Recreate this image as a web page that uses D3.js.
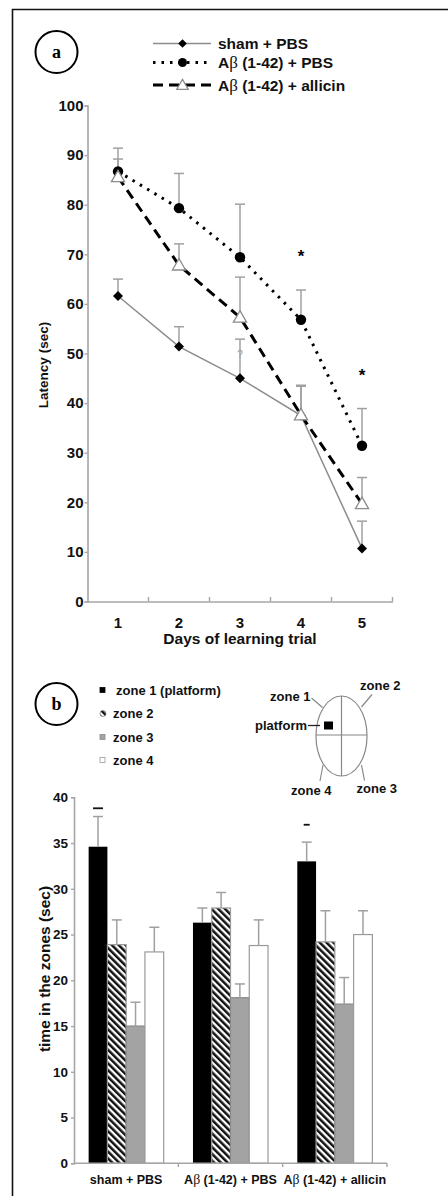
<!DOCTYPE html>
<html>
<head>
<meta charset="utf-8">
<script src="https://cdn.jsdelivr.net/npm/d3@7"></script>
<style>
  html, body { margin: 0; padding: 0; background: #fff; }
  svg { display: block; font-family: "Liberation Sans", Arial, sans-serif; }
</style>
</head>
<body>
<div id="viz"></div>
<script>
// ---- panel a data: escape latency (sec), mean and upper error ----
var days = [1, 2, 3, 4, 5];
var seriesNames = ['sham + PBS', 'Aβ (1-42) + PBS', 'Aβ (1-42) + allicin'];
var shamPBS = [61.6, 51.4, 45.0, 37.5, 10.7];
var shamPBSErr = [3.4, 4.0, 7.9, 6.1, 5.5];
var abPBS = [86.7, 79.3, 69.4, 56.8, 31.4];
var abPBSErr = [4.7, 7.0, 10.7, 6.0, 7.5];
var abAllicin = [85.6, 67.8, 57.3, 37.6, 19.7];
var abAllicinErr = [3.6, 4.3, 8.1, 5.8, 5.3];
var latencyTicks = [0, 10, 20, 30, 40, 50, 60, 70, 80, 90, 100];
var starDays = [4, 5];
var starValues = [70.5, 46.5];

// ---- panel b data: time in the zones (sec) ----
var groups = ['sham + PBS', 'Aβ (1-42) + PBS', 'Aβ (1-42) + allicin'];
var zones = ['zone 1 (platform)', 'zone 2', 'zone 3', 'zone 4'];
var zone1 = [34.6, 26.3, 33.0];
var zone1Err = [3.3, 1.6, 2.1];
var zone2 = [23.9, 27.9, 24.2];
var zone2Err = [2.7, 1.7, 3.4];
var zone3 = [15.0, 18.1, 17.4];
var zone3Err = [2.6, 1.5, 2.9];
var zone4 = [23.1, 23.8, 25.0];
var zone4Err = [2.7, 2.8, 2.6];
var zoneTicks = [0, 5, 10, 15, 20, 25, 30, 35, 40];
var markGroups = [0, 2];
var markValues = [38.8, 37.0];

var W = 448, H = 1196;
var axisGrey = '#a6a6a6';

var svg = d3.select('#viz').append('svg')
  .attr('width', W)
  .attr('height', H);

var defs = svg.append('defs');
var hatch = defs.append('pattern')
  .attr('id', 'hatch')
  .attr('patternUnits', 'userSpaceOnUse')
  .attr('width', 4.8)
  .attr('height', 4.8)
  .attr('patternTransform', 'rotate(-45)');
hatch.append('rect').attr('width', 4.8).attr('height', 4.8).attr('fill', '#fff');
hatch.append('rect').attr('width', 2.5).attr('height', 4.8).attr('fill', '#111');

// text with a serif beta, like the original figure
function richText(sel, str) {
  str.split(/(β)/).forEach(function(part) {
    if (!part) return;
    var t = sel.append('tspan').text(part);
    if (part === 'β') {
      t.style('font-family', '"Liberation Serif", "DejaVu Serif", serif')
        .style('font-weight', 'normal')
        .style('font-size', '1.1em');
    }
  });
}

function panelLetter(cx, cy, letter) {
  svg.append('circle')
    .attr('cx', cx).attr('cy', cy).attr('r', 21)
    .attr('fill', '#fff').attr('stroke', '#000').attr('stroke-width', 2);
  svg.append('text')
    .attr('x', cx).attr('y', cy + 6)
    .attr('text-anchor', 'middle')
    .style('font-family', '"Liberation Serif", "DejaVu Serif", serif')
    .style('font-weight', 'bold')
    .style('font-size', '18px')
    .text(letter);
}

// frame: top and left edges only
svg.append('path')
  .attr('d', 'M12.5,' + H + 'V9.5H' + W)
  .attr('fill', 'none')
  .attr('stroke', '#111')
  .attr('stroke-width', 1.6);

// ================= panel a =================
panelLetter(56.5, 52, 'a');

var series = [
  { name: seriesNames[0], values: shamPBS, err: shamPBSErr,
    stroke: '#8c8c8c', width: 1.5, dash: null, marker: 'diamond' },
  { name: seriesNames[1], values: abPBS, err: abPBSErr,
    stroke: '#000', width: 3, dash: '2.5,6', marker: 'circle' },
  { name: seriesNames[2], values: abAllicin, err: abAllicinErr,
    stroke: '#000', width: 3, dash: '10,6', marker: 'triangle' }
];

var xA = d3.scaleBand().domain(days).range([87.5, 392.5]);
var yA = d3.scaleLinear().domain([0, 100]).range([601.5, 105.5]);
var cxA = function(d) { return xA(d) + xA.bandwidth() / 2; };

function drawMarker(g, type, x, y, small) {
  var k = small ? 0.75 : 1;
  if (type === 'diamond') {
    g.append('path')
      .attr('d', d3.symbol(d3.symbolSquare, 50 * k)())
      .attr('transform', 'translate(' + x + ',' + y + ') rotate(45)')
      .attr('fill', '#000');
  } else if (type === 'circle') {
    g.append('circle').attr('cx', x).attr('cy', y).attr('r', 5.2 * Math.sqrt(k)).attr('fill', '#000');
  } else {
    g.append('path')
      .attr('d', d3.symbol(d3.symbolTriangle, 75 * k)())
      .attr('transform', 'translate(' + x + ',' + (y + 1) + ')')
      .attr('fill', '#fff')
      .attr('stroke', '#8c8c8c')
      .attr('stroke-width', 1.3);
  }
}

// legend a
var legA = svg.append('g');
var legRows = [43.5, 62.5, 85];
series.forEach(function(s, i) {
  var ly = legRows[i];
  legA.append('line')
    .attr('x1', 153).attr('x2', 211).attr('y1', ly).attr('y2', ly)
    .attr('stroke', s.stroke).attr('stroke-width', s.width)
    .attr('stroke-dasharray', s.dash);
  drawMarker(legA, s.marker, 182.5, ly, true);
  var t = legA.append('text')
    .attr('x', 218).attr('y', ly + 5.5)
    .style('font-size', '15.5px')
    .style('font-weight', 'bold')
    .attr('fill', '#111');
  richText(t, s.name);
});

// axes a
var gA = svg.append('g');
var yAxisA = gA.append('g')
  .attr('transform', 'translate(87.5,0)')
  .call(d3.axisLeft(yA).tickValues(latencyTicks).tickSize(3).tickPadding(1));
yAxisA.select('.domain').attr('stroke', axisGrey).attr('stroke-width', 1.6);
yAxisA.selectAll('.tick line').attr('stroke', axisGrey).attr('stroke-width', 1.4);
yAxisA.selectAll('.tick text')
  .style('font-size', '15px').style('font-weight', 'bold').attr('fill', '#111');

var xAxisA = gA.append('g')
  .attr('transform', 'translate(0,601.5)')
  .call(d3.axisBottom(xA).tickSize(0).tickPadding(16).tickSizeOuter(0));
xAxisA.select('.domain').attr('stroke', axisGrey).attr('stroke-width', 1.6);
xAxisA.selectAll('.tick text')
  .style('font-size', '15px').style('font-weight', 'bold').attr('fill', '#111');
gA.selectAll('.xbound')
  .data(days)
  .enter().append('line')
  .attr('x1', function(d) { return xA(d) + xA.bandwidth(); })
  .attr('x2', function(d) { return xA(d) + xA.bandwidth(); })
  .attr('y1', 601.5).attr('y2', 597)
  .attr('stroke', axisGrey).attr('stroke-width', 1.4);

gA.append('text')
  .attr('x', 240).attr('y', 643.5)
  .attr('text-anchor', 'middle')
  .style('font-size', '15.5px').style('font-weight', 'bold')
  .attr('fill', '#111')
  .text('Days of learning trial');

gA.append('text')
  .attr('transform', 'translate(47.5,365) rotate(-90)')
  .attr('text-anchor', 'middle')
  .style('font-size', '13.5px').style('font-weight', 'bold')
  .attr('fill', '#111')
  .text('Latency (sec)');

// error bars a
series.forEach(function(s) {
  var eg = gA.append('g').attr('stroke', '#a0a0a0').attr('stroke-width', 1.5);
  days.forEach(function(d, i) {
    var x = cxA(d), y0 = yA(s.values[i]), y1 = yA(s.values[i] + s.err[i]);
    eg.append('line').attr('x1', x).attr('x2', x).attr('y1', y0).attr('y2', y1);
    eg.append('line').attr('x1', x - 5).attr('x2', x + 5).attr('y1', y1).attr('y2', y1);
  });
});

// lines a
var lineA = d3.line()
  .x(function(d, i) { return cxA(days[i]); })
  .y(function(d) { return yA(d); });
series.forEach(function(s) {
  gA.append('path')
    .datum(s.values)
    .attr('d', lineA)
    .attr('fill', 'none')
    .attr('stroke', s.stroke)
    .attr('stroke-width', s.width)
    .attr('stroke-dasharray', s.dash);
});
series.forEach(function(s) {
  days.forEach(function(d, i) {
    drawMarker(gA, s.marker, cxA(d), yA(s.values[i]));
  });
});

// significance stars
starDays.forEach(function(d, i) {
  gA.append('text')
    .attr('x', cxA(d)).attr('y', yA(starValues[i]) + 10)
    .attr('text-anchor', 'middle')
    .style('font-size', '17px').style('font-weight', 'bold')
    .text('*');
});
gA.append('text')
  .attr('x', cxA(3)).attr('y', yA(50) + 4)
  .attr('text-anchor', 'middle')
  .style('font-size', '10px')
  .attr('fill', '#999')
  .text('?');

// ================= panel b =================
panelLetter(56.5, 704, 'b');

var zoneVals = [zone1, zone2, zone3, zone4];
var zoneErrs = [zone1Err, zone2Err, zone3Err, zone4Err];
var zoneFill = ['#000', 'url(#hatch)', '#a3a3a3', '#fff'];
var zoneStroke = ['#000', '#9a9a9a', '#8a8a8a', '#9a9a9a'];

// legend b
var legB = svg.append('g');
var legBRows = [690, 713.5, 737, 760];
zones.forEach(function(z, i) {
  var ly = legBRows[i];
  if (i === 1) {
    legB.append('circle').attr('cx', 103).attr('cy', ly).attr('r', 3)
      .attr('fill', 'url(#hatch)').attr('stroke', '#666').attr('stroke-width', 0.6);
  } else {
    legB.append('rect')
      .attr('x', 100).attr('y', ly - 2.5).attr('width', 5).attr('height', 5)
      .attr('fill', zoneFill[i]).attr('stroke', zoneStroke[i]).attr('stroke-width', 0.8);
  }
  legB.append('text')
    .attr('x', i === 0 ? 116 : 113).attr('y', ly + 4.5)
    .style('font-size', '13px').style('font-weight', 'bold')
    .attr('fill', '#111')
    .text(z);
});

// water maze sketch
var maze = svg.append('g').attr('stroke', '#888').attr('stroke-width', 1.2).attr('fill', 'none');
maze.append('ellipse').attr('cx', 341.5).attr('cy', 736).attr('rx', 25.5).attr('ry', 40);
maze.append('line').attr('x1', 316).attr('x2', 367).attr('y1', 735).attr('y2', 735);
maze.append('line').attr('x1', 341.5).attr('x2', 341.5).attr('y1', 696).attr('y2', 776);
maze.append('line').attr('x1', 311.5).attr('y1', 698).attr('x2', 322.5).attr('y2', 707.5);
maze.append('line').attr('x1', 372).attr('y1', 694.5).attr('x2', 361.5).attr('y2', 707);
maze.append('line').attr('x1', 323).attr('y1', 765).attr('x2', 320).attr('y2', 781);
maze.append('line').attr('x1', 361.5).attr('y1', 765).attr('x2', 364.5).attr('y2', 780.5);
svg.append('line').attr('x1', 308).attr('x2', 320).attr('y1', 725.5).attr('y2', 725.5)
  .attr('stroke', '#222').attr('stroke-width', 1.3);
svg.append('rect').attr('x', 324).attr('y', 721.5).attr('width', 9).attr('height', 8).attr('fill', '#000');
var mazeLabels = [
  ['zone 1', 270, 700.5], ['zone 2', 360, 689.5], ['platform', 255, 730],
  ['zone 4', 291, 794.5], ['zone 3', 356.5, 793]
];
mazeLabels.forEach(function(m) {
  svg.append('text')
    .attr('x', m[1]).attr('y', m[2])
    .style('font-size', '13px').style('font-weight', 'bold')
    .attr('fill', '#111')
    .text(m[0]);
});

// scales b
var x0 = d3.scaleBand().domain(groups).range([74, 387]);
var x1 = d3.scaleBand().domain(zones).range([0, x0.bandwidth()]).paddingOuter(0.78);
var yB = d3.scaleLinear().domain([0, 40]).range([1163.3, 797.3]);

var gB = svg.append('g');

// bars
groups.forEach(function(gName, gi) {
  zones.forEach(function(z, zi) {
    var v = zoneVals[zi][gi];
    gB.append('rect')
      .attr('x', x0(gName) + x1(z))
      .attr('y', yB(v))
      .attr('width', x1.bandwidth())
      .attr('height', yB(0) - yB(v))
      .attr('fill', zoneFill[zi])
      .attr('stroke', zoneStroke[zi])
      .attr('stroke-width', zi === 0 ? 0 : 1.2);
  });
});

// error bars b
var ebB = gB.append('g').attr('stroke', '#a0a0a0').attr('stroke-width', 1.5);
groups.forEach(function(gName, gi) {
  zones.forEach(function(z, zi) {
    var v = zoneVals[zi][gi], e = zoneErrs[zi][gi];
    var x = x0(gName) + x1(z) + x1.bandwidth() / 2;
    ebB.append('line').attr('x1', x).attr('x2', x).attr('y1', yB(v)).attr('y2', yB(v + e));
    ebB.append('line').attr('x1', x - 5).attr('x2', x + 5).attr('y1', yB(v + e)).attr('y2', yB(v + e));
  });
});

// marks over zone 1 bars
markGroups.forEach(function(gi, i) {
  var x = x0(groups[gi]) + x1(zones[0]) + x1.bandwidth() / 2;
  var half = i === 0 ? 5 : 3;
  gB.append('line')
    .attr('x1', x - half).attr('x2', x + half)
    .attr('y1', yB(markValues[i])).attr('y2', yB(markValues[i]))
    .attr('stroke', '#111').attr('stroke-width', 1.8);
});

// axes b
var yAxisB = gB.append('g')
  .attr('transform', 'translate(74,0)')
  .call(d3.axisLeft(yB).tickValues(zoneTicks).tickSize(3).tickPadding(3));
yAxisB.select('.domain').attr('stroke', axisGrey).attr('stroke-width', 1.6);
yAxisB.selectAll('.tick line').attr('stroke', axisGrey).attr('stroke-width', 1.4);
yAxisB.selectAll('.tick text')
  .style('font-size', '13.5px').style('font-weight', 'bold').attr('fill', '#111');

gB.append('line')
  .attr('x1', 74).attr('x2', 387).attr('y1', 1163.3).attr('y2', 1163.3)
  .attr('stroke', axisGrey).attr('stroke-width', 1.6);
gB.selectAll('.gbound')
  .data(groups)
  .enter().append('line')
  .attr('x1', function(d) { return x0(d) + x0.bandwidth(); })
  .attr('x2', function(d) { return x0(d) + x0.bandwidth(); })
  .attr('y1', 1163.3).attr('y2', 1167)
  .attr('stroke', axisGrey).attr('stroke-width', 1.4);

groups.forEach(function(gName) {
  var t = gB.append('text')
    .attr('x', x0(gName) + x0.bandwidth() / 2)
    .attr('y', 1184)
    .attr('text-anchor', 'middle')
    .style('font-size', '12.5px').style('font-weight', 'bold')
    .attr('fill', '#111');
  richText(t, gName);
});

gB.append('text')
  .attr('transform', 'translate(50,969) rotate(-90)')
  .attr('text-anchor', 'middle')
  .style('font-size', '15.5px').style('font-weight', 'bold')
  .attr('fill', '#111')
  .text('time in the zones (sec)');
</script>
</body>
</html>
